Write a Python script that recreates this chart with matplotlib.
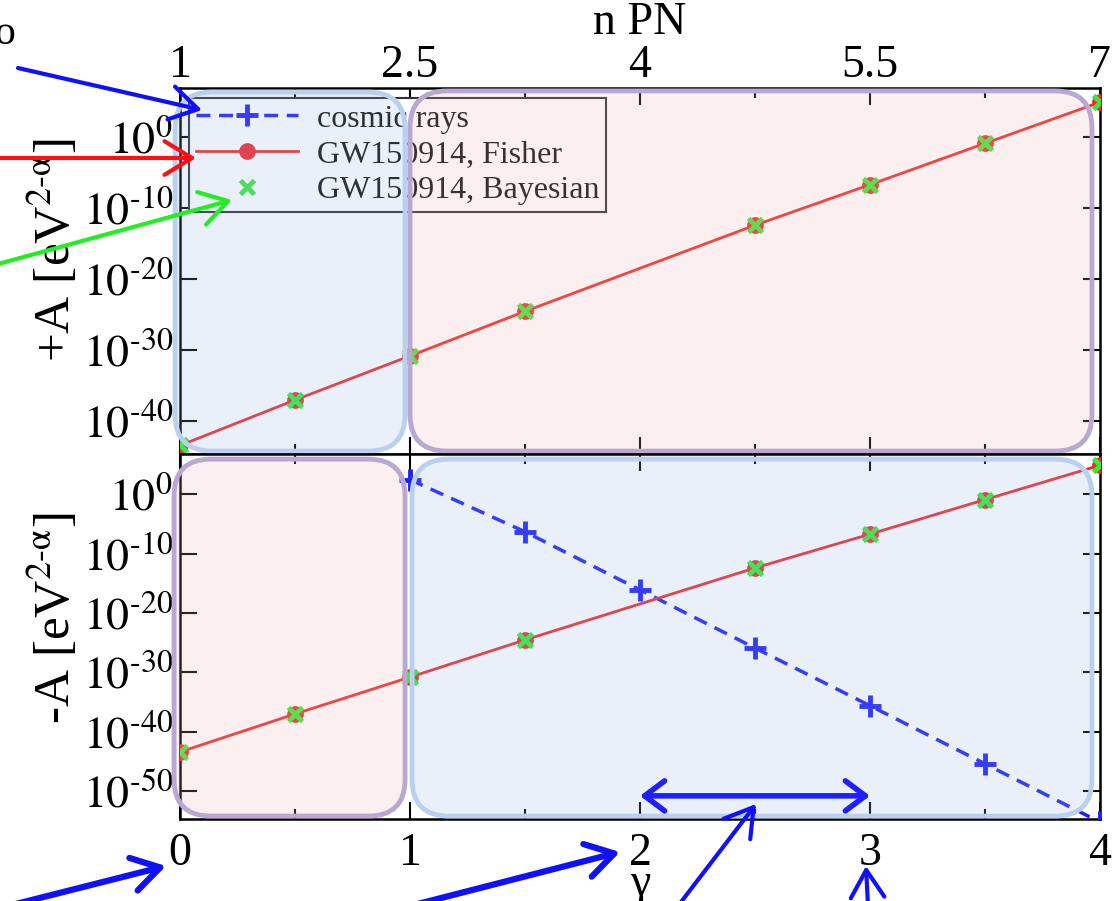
import math
import matplotlib
matplotlib.use("Agg")
import matplotlib.pyplot as plt
from matplotlib.patches import FancyBboxPatch, FancyArrowPatch
from matplotlib.legend_handler import HandlerLine2D
from matplotlib.ticker import FixedLocator, FuncFormatter

# data
gamma = [0, 0.5, 1, 1.5, 2.5, 3, 3.5, 4]
fisher = [4e-44, 1e-37, 1.6e-31, 3e-25, 4e-13, 2e-7, 0.13, 8e4]
bayes = [4e-44, 1e-37, 1.6e-31, 3e-25, 4e-13, 2e-7, 0.13, 8e4]
cr_gamma = [1, 1.5, 2, 2.5, 3, 3.5, 4]
cosmic = [3e2, 5e-7, 8e-17, 1.3e-26, 2.5e-36, 4e-46, 6e-56]

gamma_ticks = [0, 1, 2, 3, 4]
gamma_labels = ["0", "1", "2", "3", "4"]
npn_labels = ["1", "2.5", "4", "5.5", "7"]
top_yticks = [1e0, 1e-10, 1e-20, 1e-30, 1e-40]
bot_yticks = [1e0, 1e-10, 1e-20, 1e-30, 1e-40, 1e-50]

plt.rcParams["font.family"] = ["Liberation Serif", "DejaVu Serif"]
plt.rcParams["mathtext.fontset"] = "stix"

BLUE = "#1f1fff"
RED = "#f22a2a"
GREEN = "#3be83b"

fig = plt.figure(figsize=(11.14, 9.01), dpi=100)
ax1 = fig.add_axes([0.1616, 0.4961, 0.8258, 0.4062])
ax2 = fig.add_axes([0.1616, 0.0910, 0.8258, 0.4051])


def sci(v, pos):
    e = int(round(math.log10(v)))
    return r"$10^{\text{%d}}$" % e


for ax, yt in ((ax1, top_yticks), (ax2, bot_yticks)):
    ax.set_yscale("log")
    ax.yaxis.set_major_locator(FixedLocator(yt))
    ax.yaxis.set_minor_locator(FixedLocator([]))
    ax.yaxis.set_major_formatter(FuncFormatter(sci))
    ax.set_xlim(0, 4)
    ax.set_xticks(gamma_ticks)
    ax.set_xticks([0.5, 1.5, 2.5, 3.5], minor=True)
    ax.tick_params(which="both", direction="in", top=True, right=True,
                   labelsize=33, width=1.5)
    ax.tick_params(which="major", length=12)
    ax.tick_params(which="minor", length=7)
    ax.tick_params(axis="y", pad=5)
    for s in ax.spines.values():
        s.set_linewidth(1.8)

ax1.set_ylim(10 ** -44.6, 10 ** 6.9)
ax2.set_ylim(10 ** -54.7, 10 ** 6.8)

# top panel: +A
ax1.plot([], [], color=BLUE, ls=(0, (4, 2.5)), lw=2.5, marker="+", ms=16, mew=3.5,
         label="cosmic rays")
ax1.plot(gamma, fisher, color=RED, lw=2, marker="o", ms=11, label="GW150914, Fisher", zorder=3)
ax1.plot(gamma, bayes, ls="none", color=GREEN, marker="x", ms=10, mew=3.5,
         label="GW150914, Bayesian", zorder=4)

# bottom panel: -A
ax2.plot(cr_gamma, cosmic, color=BLUE, ls=(0, (4, 2.5)), lw=2.5, marker="+", ms=16, mew=3.5,
         zorder=3)
ax2.plot(gamma, fisher, color=RED, lw=2, marker="o", ms=11, zorder=3)
ax2.plot(gamma, bayes, ls="none", color=GREEN, marker="x", ms=10, mew=3.5, zorder=4)

ax1.tick_params(axis="x", labeltop=True, labelbottom=False, pad=1)
ax1.set_xticklabels(npn_labels)
ax1.xaxis.set_label_position("top")
ax1.set_xlabel("n PN", fontsize=33, labelpad=7)
ax2.tick_params(axis="x", pad=10)
ax2.set_xticklabels(gamma_labels)
ax2.set_xlabel("γ", fontsize=33, labelpad=-9)

ax1.set_ylabel(r"+A [eV$^{\text{2-α}}$]", fontsize=37)
ax2.set_ylabel(r"-A [eV$^{\text{2-α}}$]", fontsize=37)
ax1.yaxis.set_label_coords(-0.108, 0.556)
ax2.yaxis.set_label_coords(-0.108, 0.55)

leg = ax1.legend(loc="upper left", bbox_to_anchor=(0.01, 0.973), fontsize=23,
                 fancybox=False, framealpha=1, edgecolor="#333333", handlelength=3.2,
                 borderaxespad=0, labelspacing=0.2, handletextpad=0.6,
                 borderpad=0.2,
                 handler_map={ax1.lines[2]: HandlerLine2D(numpoints=1)})
leg.get_frame().set_linewidth(1.5)
for t in leg.get_texts():
    t.set_color("#111111")

# rounded highlight boxes
boxes = [
    (ax1, -0.0054, 0.008, 0.2500, 0.981, "#91b4e6", "#b9d0ee"),
    (ax1, 0.2500, 0.008, 0.7413, 0.984, "#f0afaf", "#b8a8d2"),
    (ax2, -0.0065, 0.008, 0.2511, 0.978, "#f0afaf", "#b8a8d2"),
    (ax2, 0.2522, 0.008, 0.7391, 0.978, "#91b4e6", "#b9d0ee"),
]
for ax, x0, y0, w, h, fc, ec in boxes:
    asp = 920 / 366
    fill = FancyBboxPatch((x0, y0), w, h, boxstyle="round,pad=0,rounding_size=0.04",
                          mutation_aspect=asp, transform=ax.transAxes, clip_on=False,
                          facecolor=fc, alpha=0.2, edgecolor="none", zorder=6)
    edge = FancyBboxPatch((x0, y0), w, h, boxstyle="round,pad=0,rounding_size=0.04",
                          mutation_aspect=asp, transform=ax.transAxes, clip_on=False,
                          facecolor="none", edgecolor=ec, lw=3.5, zorder=7)
    ax.add_patch(fill)
    ax.add_patch(edge)

# double-headed arrow between gamma 2 and 3
ax2.annotate("", xy=(2.0, 10 ** -50.8), xytext=(3.0, 10 ** -50.8),
             arrowprops=dict(arrowstyle="<->,head_length=0.8,head_width=0.6", color=BLUE,
                             lw=4, shrinkA=0, shrinkB=0, mutation_scale=18), zorder=8)


# arrows pointing in from outside
def farrow(x0, y0, x1, y1, color, lw):
    fig.add_artist(FancyArrowPatch(
        (x0 / 1114, 1 - y0 / 901), (x1 / 1114, 1 - y1 / 901),
        transform=fig.transFigure, arrowstyle="->,head_length=0.9,head_width=0.55",
        mutation_scale=22, color=color, lw=lw, shrinkA=0, shrinkB=0, zorder=10))


farrow(18, 68, 202, 110, "#1010ff", 3)
farrow(-2, 158, 196, 158, "#ff1010", 3)
farrow(-2, 264, 232, 200, "#22ee22", 3)
farrow(8, 906, 166, 866, "#1010ff", 4.5)
farrow(410, 906, 620, 852, "#1010ff", 4.5)
farrow(678, 906, 756, 804, "#1010ff", 3)
farrow(868, 906, 866, 866, "#1010ff", 3)

fig.text(0.004, 0.962, "o", fontsize=30, ha="center", va="center")

fig.savefig("out.png", dpi=100)
